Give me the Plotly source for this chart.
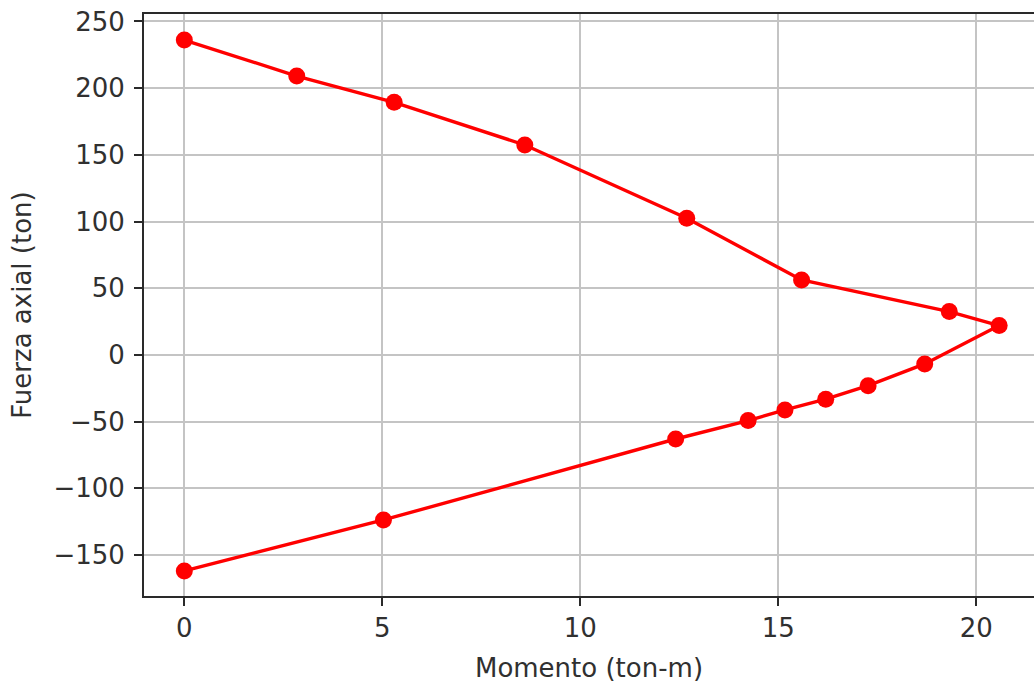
import plotly.graph_objects as go

# Interaction diagram: moment vs axial force
momento = [0.0, 2.84, 5.30, 8.60, 12.69, 15.59, 19.32, 20.58, 18.70, 17.27,
           16.20, 15.17, 14.24, 12.41, 5.03, 0.0]
fuerza_axial = [236.1, 209.1, 189.4, 157.4, 102.5, 56.2, 32.5, 22.0, -6.7, -23.0,
                -33.2, -41.2, -49.2, -63.0, -123.7, -161.9]

x_ticks = [0, 5, 10, 15, 20]
y_ticks = [250, 200, 150, 100, 50, 0, -50, -100, -150]

FONT = "DejaVu Sans"
TEXT = "#303030"
GRID = "#c4c4c4"
SPINE = "#2a2a2a"
FS = 26

fig = go.Figure()
fig.add_trace(go.Scatter(
    x=momento,
    y=fuerza_axial,
    mode="lines+markers",
    line=dict(color="#ff0000", width=3.4),
    marker=dict(color="#ff0000", size=17, line=dict(width=0)),
    showlegend=False,
))

fig.update_layout(
    width=1034,
    height=686,
    margin=dict(l=144, r=0, t=14, b=90),
    paper_bgcolor="white",
    plot_bgcolor="white",
    font=dict(family=FONT, size=FS, color=TEXT),
)

fig.update_xaxes(
    range=[-1.018, 21.46],
    tickvals=x_ticks,
    ticktext=[str(v) for v in x_ticks],
    showgrid=True, gridcolor=GRID, gridwidth=2,
    zeroline=False,
    showline=True, linecolor=SPINE, linewidth=2, mirror=True,
    ticks="outside", ticklen=8, tickwidth=2, tickcolor=SPINE,
    tickfont=dict(family=FONT, size=FS, color=TEXT),
    title=dict(text="Momento (ton-m)", font=dict(family=FONT, size=FS, color=TEXT), standoff=17),
)

fig.update_yaxes(
    range=[-180.7, 255.6],
    tickvals=y_ticks,
    ticktext=[str(v).replace("-", "\u2212") for v in y_ticks],
    showgrid=True, gridcolor=GRID, gridwidth=2,
    zeroline=False,
    showline=True, linecolor=SPINE, linewidth=2, mirror=False,
    ticks="outside", ticklen=8, tickwidth=2, tickcolor=SPINE,
    ticklabelstandoff=4,
    tickfont=dict(family=FONT, size=FS, color=TEXT),
    title=dict(text="Fuerza axial (ton)", font=dict(family=FONT, size=FS, color=TEXT), standoff=14),
)

fig.write_html("out.html")
